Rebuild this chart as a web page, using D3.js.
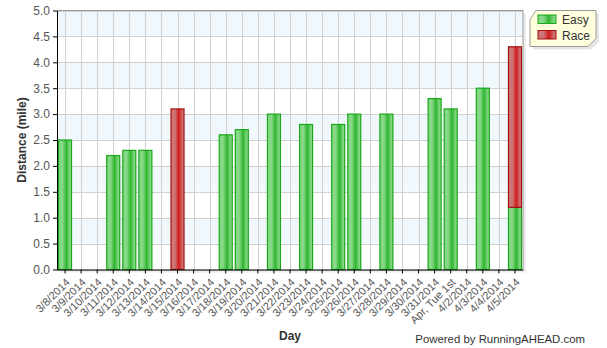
<!DOCTYPE html>
<html>
<head>
<meta charset="utf-8">
<script src="https://cdn.jsdelivr.net/npm/d3@7"></script>
<style>
  body { margin: 0; background: #fff; }
  text { font-family: "Liberation Sans", Arial, sans-serif; }
</style>
</head>
<body>
<svg id="chart" width="607" height="348"></svg>
<script>
const days = ["3/8/2014", "3/9/2014", "3/10/2014", "3/11/2014", "3/12/2014", "3/13/2014", "3/14/2014",
  "3/15/2014", "3/16/2014", "3/17/2014", "3/18/2014", "3/19/2014", "3/20/2014", "3/21/2014",
  "3/22/2014", "3/23/2014", "3/24/2014", "3/25/2014", "3/26/2014", "3/27/2014", "3/28/2014",
  "3/29/2014", "3/30/2014", "3/31/2014", "Apr, Tue 1st", "4/2/2014", "4/3/2014", "4/4/2014", "4/5/2014"];
const easy = [2.5, 0, 0, 2.2, 2.3, 2.3, 0, 0, 0, 0, 2.6, 2.7, 0, 3.0, 0, 2.8, 0, 2.8, 3.0, 0, 3.0,
  0, 0, 3.3, 3.1, 0, 3.5, 0, 1.2];
const race = [0, 0, 0, 0, 0, 0, 0, 3.1, 0, 0, 0, 0, 0, 0, 0, 0, 0, 0, 0, 0, 0,
  0, 0, 0, 0, 0, 0, 0, 3.1];
const yTicks = [0, 0.5, 1, 1.5, 2, 2.5, 3, 3.5, 4, 4.5, 5];
const seriesNames = ["Easy", "Race"];

const margin = { top: 10.5, left: 57, right: 84, bottom: 78.5 };
const W = 607, H = 348;
const svg = d3.select("#chart");
const defs = svg.append("defs");

function barGrad(id, light, mid, dark) {
  const g = defs.append("linearGradient").attr("id", id).attr("x1", "0").attr("x2", "1").attr("y1", "0").attr("y2", "0");
  [[0, light], [0.3, light], [0.45, mid], [0.6, dark], [0.75, mid], [0.9, light], [1, light]].forEach(([o, c]) =>
    g.append("stop").attr("offset", o).attr("stop-color", c));
}
barGrad("gEasy", "#86d886", "#5cc85c", "#2fb52f");
barGrad("gRace", "#cc7777", "#d24848", "#cc1c1c");

const x = d3.scaleBand().domain(days).range([margin.left, W - margin.right]);
const y = d3.scaleLinear().domain([0, 5]).range([H - margin.bottom, margin.top]);
const cx = d => x(d) + x.bandwidth() / 2;

// shadow of plot area
svg.append("rect").attr("x", margin.left + 3).attr("y", margin.top + 3)
  .attr("width", W - margin.right - margin.left).attr("height", y(0) - margin.top)
  .attr("fill", "#eee");
svg.append("rect").attr("x", margin.left).attr("y", margin.top)
  .attr("width", W - margin.right - margin.left).attr("height", y(0) - margin.top)
  .attr("fill", "#fff");

// alternating bands
const bands = yTicks.slice(0, -1).filter((d, i) => i % 2 === 1);
svg.selectAll(".band").data(bands).enter().append("rect")
  .attr("x", margin.left).attr("width", W - margin.right - margin.left)
  .attr("y", d => y(d + 0.5)).attr("height", d => y(d) - y(d + 0.5))
  .attr("fill", "#f0f8fd");

// grid
svg.append("g").selectAll("line").data(yTicks).enter().append("line")
  .attr("x1", margin.left).attr("x2", W - margin.right)
  .attr("y1", d => Math.round(y(d)) + 0.5).attr("y2", d => Math.round(y(d)) + 0.5)
  .attr("stroke", "#d0d0d0");
svg.append("g").selectAll("line").data(days).enter().append("line")
  .attr("x1", d => Math.round(cx(d)) + 0.5).attr("x2", d => Math.round(cx(d)) + 0.5)
  .attr("y1", margin.top).attr("y2", y(0))
  .attr("stroke", "#d0d0d0");

// border (top/right)
svg.append("path")
  .attr("d", `M${margin.left},${margin.top}H${W - margin.right}V${y(0)}`)
  .attr("fill", "none").attr("stroke", "#999");

// bars
const bw = 13;
const stacks = days.map((d, i) => ({ day: d, easy: easy[i], race: race[i] }));
svg.append("g").selectAll("rect").data(stacks.filter(s => s.easy > 0)).enter().append("rect")
  .attr("x", s => cx(s.day) - bw / 2).attr("width", bw)
  .attr("y", s => y(s.easy)).attr("height", s => y(0) - y(s.easy))
  .attr("fill", "url(#gEasy)").attr("stroke", "#18a818").attr("stroke-width", 1.2);
svg.append("g").selectAll("rect").data(stacks.filter(s => s.race > 0)).enter().append("rect")
  .attr("x", s => cx(s.day) - bw / 2).attr("width", bw)
  .attr("y", s => y(s.easy + s.race)).attr("height", s => y(s.easy) - y(s.easy + s.race))
  .attr("fill", "url(#gRace)").attr("stroke", "#a80f0f").attr("stroke-width", 1.2);

// axes
const yAxis = svg.append("g").attr("transform", `translate(${margin.left},0)`)
  .call(d3.axisLeft(y).tickValues(yTicks).tickFormat(d3.format(".1f")).tickSize(4).tickSizeOuter(0));
yAxis.selectAll("text").attr("fill", "#555").style("font-size", "12px");
yAxis.select(".domain").attr("stroke", "#000");

const xAxis = svg.append("g").attr("transform", `translate(0,${y(0)})`)
  .call(d3.axisBottom(x).tickSize(4).tickSizeOuter(0));
xAxis.select(".domain").attr("stroke", "#000");
xAxis.selectAll("text")
  .attr("fill", "#555").style("font-size", "11px")
  .attr("text-anchor", "end")
  .attr("x", 0).attr("y", 0).attr("dy", 0)
  .attr("transform", "translate(5.5,13.5) rotate(-45)");

svg.append("text").attr("transform", `translate(26,${(margin.top + y(0)) / 2}) rotate(-90)`)
  .attr("text-anchor", "middle").style("font-size", "12px").style("font-weight", "bold").attr("fill", "#333")
  .text("Distance (mile)");
svg.append("text").attr("x", (margin.left + W - margin.right) / 2).attr("y", 340)
  .attr("text-anchor", "middle").style("font-size", "12px").style("font-weight", "bold").attr("fill", "#333")
  .text("Day");
svg.append("text").attr("x", 585).attr("y", 343).attr("text-anchor", "end")
  .style("font-size", "11.4px").attr("fill", "#333").text("Powered by RunningAHEAD.com");

// legend
const lg = svg.append("g").attr("transform", "translate(530,10.5)");
lg.append("path").attr("d", "M9,3H69V31L61,39H3V12Z").attr("fill", "#e6e6e6");
lg.append("path").attr("d", "M6,0H66V28L58,36H0V9Z").attr("fill", "#ffffdd").attr("stroke", "#999");
const items = lg.selectAll(".item").data(seriesNames).enter().append("g")
  .attr("transform", (d, i) => `translate(8,${4.5 + i * 15.5})`);
items.append("rect").attr("width", 18).attr("height", 8.5)
  .attr("fill", (d, i) => i === 0 ? "url(#gEasy)" : "url(#gRace)")
  .attr("stroke", (d, i) => i === 0 ? "#18a818" : "#a80f0f");
items.append("text").attr("x", 24).attr("y", 9).style("font-size", "12px").attr("fill", "#333").text(d => d);
</script>
</body>
</html>
